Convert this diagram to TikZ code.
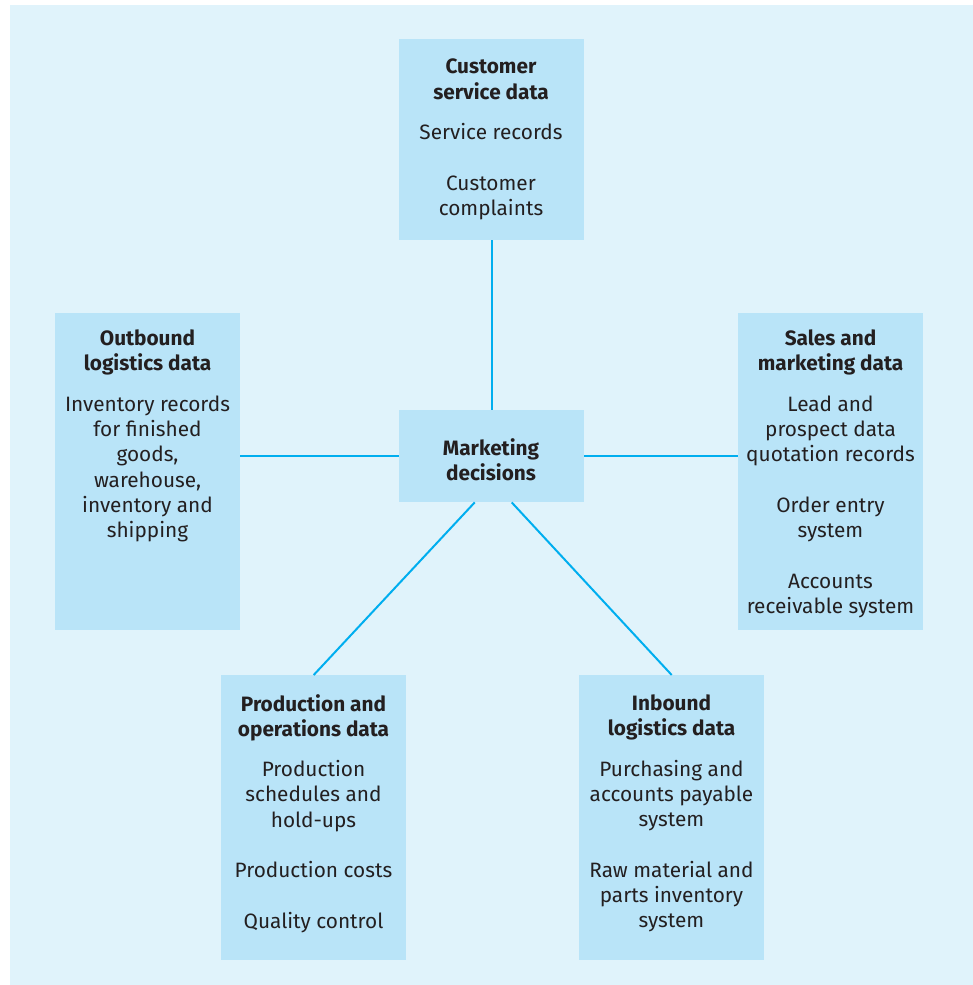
\documentclass[tikz,border=0pt]{standalone}
\usepackage{fontspec}
\setmainfont{Fira Sans}
\definecolor{bgc}{HTML}{E0F3FB}
\definecolor{boxc}{HTML}{B9E4F8}
\definecolor{linec}{HTML}{00AEEF}
\definecolor{txtc}{HTML}{231F20}
\begin{document}
\begin{tikzpicture}[x=1pt,y=-1pt,
  panel/.style={fill=boxc,draw=none,inner sep=0pt,anchor=north west},
  txt/.style={inner sep=0pt,align=center,text=txtc,font=\fontsize{20.8}{25.3}\selectfont},
  link/.style={draw=linec,line width=2pt}]
\useasboundingbox (0,0) rectangle (973,985);
\fill[bgc] (10,5) rectangle (973,985);
% boxes
\node[panel,minimum width=185pt,minimum height=201pt] (cs) at (399,39) {};
\node[panel,minimum width=185pt,minimum height=317pt] (ol) at (55,313) {};
\node[panel,minimum width=185pt,minimum height=317pt] (sm) at (738,313) {};
\node[panel,minimum width=185pt,minimum height=92pt] (md) at (399,410) {};
\node[panel,minimum width=185pt,minimum height=285pt] (po) at (221,675) {};
\node[panel,minimum width=185pt,minimum height=285pt] (il) at (579,675) {};
% connectors
\draw[link] (cs.south) -- (md.north);
\draw[link] (ol.east |- md.west) -- (md.west);
\draw[link] (md.east) -- (sm.west |- md.east);
\coordinate (mdl) at ([xshift=-17pt]md.south);
\coordinate (mdr) at ([xshift=20pt]md.south);
\draw[link] (mdl) -- (po.north);
\draw[link] (mdr) -- (il.north);
% texts
\node[txt] (cst) at (491,139.5) {\textbf{Customer}\\\textbf{service data}\\[15pt]Service records\\[25.3pt]Customer\\complaints};
\node[txt] (olt) at (147.5,436) {\textbf{Outbound}\\\textbf{logistics data}\\[15pt]Inventory records\\for finished\\goods,\\warehouse,\\inventory and\\shipping};
\node[txt] (smt) at (830.5,474) {\textbf{Sales and}\\\textbf{marketing data}\\[15pt]Lead and\\prospect data\\quotation records\\[25.3pt]Order entry\\system\\[25.3pt]Accounts\\receivable system};
\node[txt] (mdt) at (491,460) {\textbf{Marketing}\\\textbf{decisions}};
\node[txt] (pot) at (313.5,813.5) {\textbf{Production and}\\\textbf{operations data}\\[15pt]Production\\schedules and\\hold-ups\\[25.3pt]Production costs\\[25.3pt]Quality control};
\node[txt] (ilt) at (671.5,813.5) {\textbf{Inbound}\\\textbf{logistics data}\\[15pt]Purchasing and\\accounts payable\\system\\[25.3pt]Raw material and\\parts inventory\\system};
\end{tikzpicture}
\end{document}
